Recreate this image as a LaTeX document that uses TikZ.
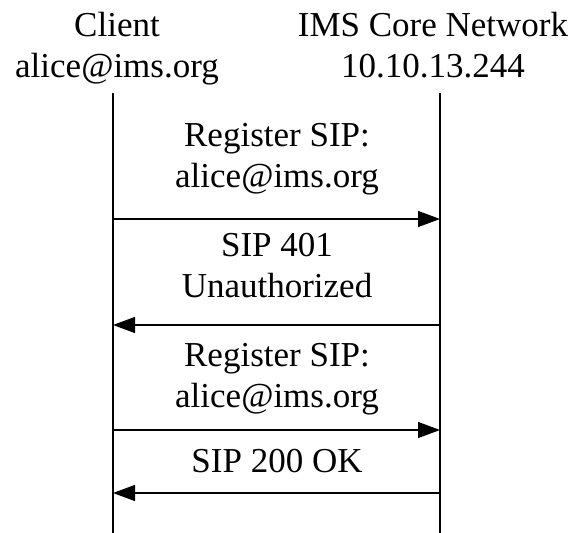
\documentclass[tikz,border=0pt]{standalone}
\usepackage{fontspec}
\setmainfont{Liberation Serif}
\usetikzlibrary{arrows.meta}
\tikzset{
  lbl/.style={align=center, inner sep=0pt, anchor=base, font=\fontsize{35}{41}\selectfont},
  lifeline/.style={line width=1.2pt},
  msg/.style={line width=1.2pt, -{Triangle[length=22pt,width=16pt]}}
}
\begin{document}
\begin{tikzpicture}[x=1pt,y=1pt]
\useasboundingbox (0,0) rectangle (576,533);
% headers (base anchor = last line's baseline)
\node[lbl] (client) at (117,455) {Client\\alice@ims.org};
\node[lbl] (ims) at (433,455) {IMS Core Network\\10.10.13.244};
% lifelines
\coordinate (ct) at (113,440);
\coordinate (cb) at (113,0);
\coordinate (st) at (440,440);
\coordinate (sb) at (440,0);
\draw[lifeline] (ct) -- (cb);
\draw[lifeline] (st) -- (sb);
% arrow end points
\coordinate (c1) at (113,314); \coordinate (s1) at (440,314);
\coordinate (c2) at (113,208); \coordinate (s2) at (440,208);
\coordinate (c3) at (113,103); \coordinate (s3) at (440,103);
\coordinate (c4) at (113,40);  \coordinate (s4) at (440,40);
% messages
\node[lbl] (m1) at (277,345) {Register SIP:\\alice@ims.org};
\draw[msg] (c1) -- (s1);
\node[lbl] (m2) at (277,235) {SIP 401\\Unauthorized};
\draw[msg] (s2) -- (c2);
\node[lbl] (m3) at (277,125) {Register SIP:\\alice@ims.org};
\draw[msg] (c3) -- (s3);
\node[lbl] (m4) at (277,60) {SIP 200 OK};
\draw[msg] (s4) -- (c4);
\end{tikzpicture}
\end{document}
